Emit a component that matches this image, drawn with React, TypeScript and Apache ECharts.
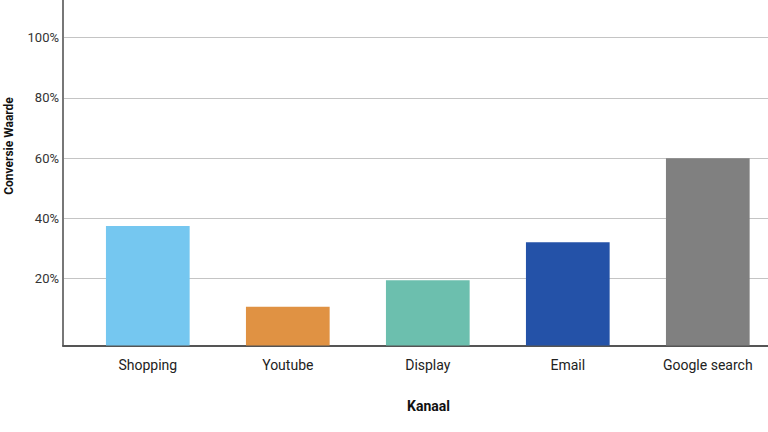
import React, { useEffect, useRef } from "react";
import * as echarts from "echarts";

const categories = ["Shopping", "Youtube", "Display", "Email", "Google search"];
const values = [38.2, 12.4, 20.9, 33.0, 59.9];
const barColors = ["#75C7F0", "#E09243", "#6CBFAE", "#2452A8", "#808080"];
const tickValues = [0, 20, 40, 60, 80, 100];

export default function App() {
  const ref = useRef<HTMLDivElement>(null);
  useEffect(() => {
    document.body.style.margin = "0";
    if (!ref.current) return;
    const chart = echarts.init(ref.current, undefined, { renderer: "svg" });
    const font = "Roboto, 'Noto Sans', sans-serif";
    chart.setOption({
      animation: false,
      backgroundColor: "#ffffff",
      grid: [
        { left: 77.8, right: 0.2, top: 0, bottom: 86.5 },
        { left: 63, right: 10, top: 37.7, bottom: 93.1 },
      ],
      xAxis: [
        {
          gridIndex: 0,
          type: "category",
          data: categories,
          axisLine: { show: false },
          axisTick: { show: false },
          axisLabel: { color: "#222", fontSize: 14, fontFamily: font, margin: 12 },
        },
        {
          gridIndex: 1,
          type: "value",
          min: 0,
          max: 1,
          offset: 6.6,
          axisLine: { show: true, onZero: false, lineStyle: { color: "#555", width: 2 } },
          axisTick: { show: false },
          axisLabel: { show: false },
          splitLine: { show: false },
        },
      ],
      yAxis: [
        {
          gridIndex: 0,
          type: "value",
          min: 0,
          max: 110.5,
          offset: 14.8,
          axisLine: { show: true, onZero: false, lineStyle: { color: "#777", width: 2 } },
          axisTick: { show: false },
          axisLabel: { show: false },
          splitLine: { show: false },
        },
        {
          gridIndex: 1,
          type: "value",
          min: tickValues[0],
          max: tickValues[tickValues.length - 1],
          interval: 20,
          axisLine: { show: false },
          axisTick: { show: false },
          axisLabel: {
            color: "#333",
            fontSize: 13,
            fontFamily: font,
            margin: 4,
            showMinLabel: false,
            formatter: (v: number) => (v === 0 ? "" : v + "%"),
          },
          splitLine: { show: true, showMinLine: false, lineStyle: { color: "#c4c4c4", width: 1 } },
        },
      ],
      graphic: [
        {
          type: "text",
          x: 9,
          y: 146,
          rotation: Math.PI / 2,
          style: {
            text: "Conversie Waarde",
            fontSize: 12,
            fontWeight: "bold",
            fontFamily: font,
            fill: "#111",
            textAlign: "center",
            textVerticalAlign: "middle",
          },
        },
        {
          type: "text",
          x: 428.5,
          y: 405.7,
          style: {
            text: "Kanaal",
            fontSize: 14,
            fontWeight: "bold",
            fontFamily: font,
            fill: "#111",
            textAlign: "center",
            textVerticalAlign: "middle",
          },
        },
      ],
      series: [
        {
          type: "bar",
          xAxisIndex: 0,
          yAxisIndex: 0,
          barWidth: 83.7,
          data: values.map((v, i) => ({ value: v, itemStyle: { color: barColors[i] } })),
        },
      ],
    });
    return () => chart.dispose();
  }, []);
  return (
    <div style={{ width: 768, height: 432, overflow: "hidden", position: "relative" }}>
      <div ref={ref} style={{ width: 778, height: 432 }} />
    </div>
  );
}
